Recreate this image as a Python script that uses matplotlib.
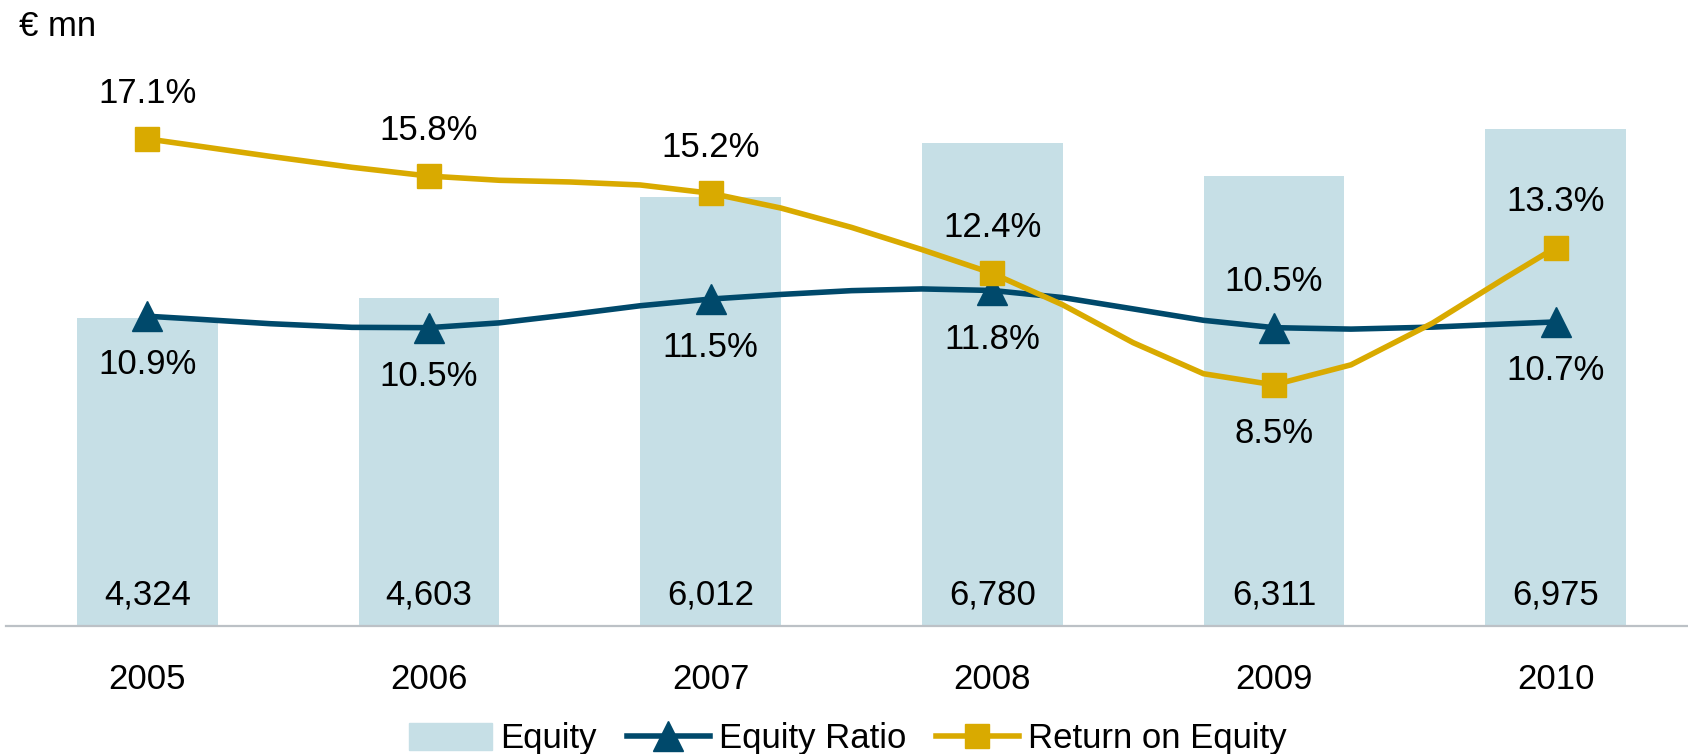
import numpy as np
import matplotlib.pyplot as plt
from matplotlib.lines import Line2D
from matplotlib.patches import Patch

years = ['2005', '2006', '2007', '2008', '2009', '2010']
equity = [4324, 4603, 6012, 6780, 6311, 6975]
equity_ratio = [10.9, 10.5, 11.5, 11.8, 10.5, 10.7]
roe = [17.1, 15.8, 15.2, 12.4, 8.5, 13.3]
# which side of the marker the label sits on: 1 above, -1 below
er_side = [-1, -1, -1, -1, 1, -1]
roe_side = [1, 1, 1, 1, -1, 1]

BAR = '#C6DFE6'
NAVY = '#00496B'
GOLD = '#D9AA00'

plt.rcParams['font.family'] = ['Liberation Sans', 'DejaVu Sans']
plt.rcParams['font.size'] = 25


def smooth(x, y, n=4):
    # excel style smoothed line, bezier segments through every point
    p = np.column_stack([x, y]).astype(float)
    p = np.vstack([p[0], p, p[-1]])
    t = np.linspace(0, 1, n + 1)[:, None]
    out = []
    for i in range(1, len(p) - 2):
        p0, p3 = p[i], p[i + 1]
        p1 = p0 + (p[i + 1] - p[i - 1]) / 6
        p2 = p3 - (p[i + 2] - p[i]) / 6
        seg = (1 - t) ** 3 * p0 + 3 * (1 - t) ** 2 * t * p1 + 3 * (1 - t) * t ** 2 * p2 + t ** 3 * p3
        out.append(seg if i == 1 else seg[1:])
    out = np.vstack(out)
    return out[:, 0], out[:, 1]


x = np.arange(len(years))

fig = plt.figure(figsize=(16.88, 7.54), dpi=100)
ax = fig.add_axes([0.00385, 0.1698, 0.99615, 0.7507])
ax2 = ax.twinx()

ax.bar(x, equity, 0.5, color=BAR, zorder=1)
ax.set_xlim(-0.5, 5.47)
ax.set_ylim(0, 7938)
ax.set_xticks(x, years)
ax.tick_params(axis='x', length=0, pad=27)
ax.set_yticks([])
for s in ['top', 'left', 'right']:
    ax.spines[s].set_visible(False)
ax.spines['bottom'].set_color('#BCC1C6')
ax.spines['bottom'].set_linewidth(1.6)

for i, v in enumerate(equity):
    ax.text(i, 0.055, f'{v:,}', transform=ax.get_xaxis_transform(),
            ha='center', va='center')

for vals, col, mk, ms, sides in [(equity_ratio, NAVY, '^', 21, er_side),
                                 (roe, GOLD, 's', 17, roe_side)]:
    sx, sy = smooth(x, vals)
    ax2.plot(sx, sy, color=col, lw=4, solid_joinstyle='round', zorder=2)
    ax2.plot(x, vals, ls='none', marker=mk, ms=ms, color=col, zorder=3)
    for i, v in enumerate(vals):
        off = 33 if sides[i] > 0 else -35
        ax2.annotate(f'{v}%', (i, v), xytext=(0, off), textcoords='offset points',
                     ha='center', va='center')

ax2.set_ylim(0.07, 19.86)
ax2.set_yticks([])
for s in ax2.spines.values():
    s.set_visible(False)

fig.text(0.0113, 0.965, '€ mn', ha='left', va='center')

handles = [Patch(color=BAR),
           Line2D([], [], color=NAVY, lw=4, marker='^', ms=21),
           Line2D([], [], color=GOLD, lw=4, marker='s', ms=17)]
fig.legend(handles, ['Equity', 'Equity Ratio', 'Return on Equity'],
           loc='center', bbox_to_anchor=(0.502, 0.02), ncol=3, frameon=False,
           handlelength=2.4, handleheight=0.8, handletextpad=0.25,
           columnspacing=0.85, borderaxespad=0, borderpad=0)

fig.savefig('out.png', dpi=100)
